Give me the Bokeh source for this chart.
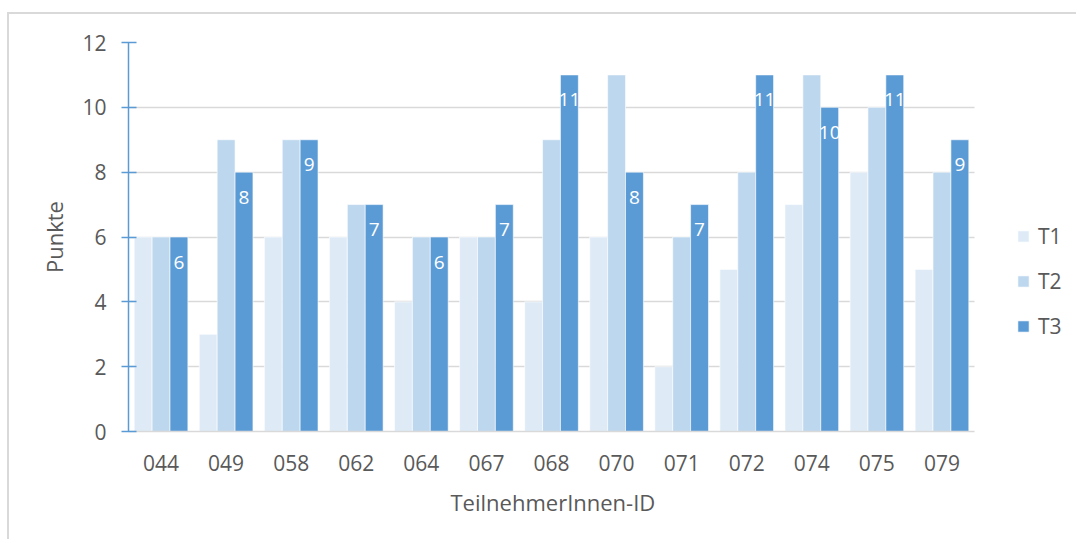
from bokeh.plotting import figure
from bokeh.models import (ColumnDataSource, Range1d, LabelSet, Title,
                          Legend, LegendItem, FixedTicker)
from bokeh.core.properties import value
from bokeh.transform import dodge
from bokeh.embed import file_html
from bokeh.resources import INLINE

# Participant IDs and points per test round
ids = ["044", "049", "058", "062", "064", "067", "068", "070", "071", "072", "074", "075", "079"]
t1 = [6, 3, 6, 6, 4, 6, 4, 6, 2, 5, 7, 8, 5]
t2 = [6, 9, 9, 7, 6, 6, 9, 11, 6, 8, 11, 10, 8]
t3 = [6, 8, 9, 7, 6, 7, 11, 8, 7, 11, 10, 11, 9]
y_ticks = [0, 2, 4, 6, 8, 10, 12]

C1, C2, C3 = "#DEEBF7", "#BDD7EE", "#5B9BD5"
TXT = "#595959"
GRID = "#D9D9D9"
FONT = "Open Sans"

n = len(ids)
xpos = [i + 0.5 for i in range(n)]

src = ColumnDataSource(dict(x=xpos, t1=t1, t2=t2, t3=t3,
                            lbl=[str(v) for v in t3]))

# layout: the bar area is 846 px wide for the 13 groups; the frame continues
# to the right edge so the legend can sit beside the bars
W, H = 1069, 527
LEFT, TOP, BOTTOM = 119, 28, 110
BAR_AREA = 846
group_px = BAR_AREA / n
x_end = (W - LEFT) / group_px

p = figure(x_range=Range1d(0, x_end), y_range=Range1d(0, 12),
           width=W, height=H, output_backend="svg", toolbar_location=None,
           min_border_left=LEFT, min_border_right=0,
           min_border_top=TOP, min_border_bottom=BOTTOM)
p.margin = (12, 0, 0, 7)
p.styles = {"border-left": "2px solid #D9D9D9", "border-top": "2px solid #D9D9D9"}
p.outline_line_color = None
p.background_fill_color = "white"
p.border_fill_color = "white"

w = 0.275
r1 = p.vbar(x=dodge("x", -w), top="t1", width=w, source=src,
            fill_color=C1, line_color="white", line_width=0.6)
r2 = p.vbar(x="x", top="t2", width=w, source=src,
            fill_color=C2, line_color="white", line_width=0.6)
r3 = p.vbar(x=dodge("x", w), top="t3", width=w, source=src,
            fill_color=C3, line_color="white", line_width=0.6)

labels = LabelSet(x=dodge("x", w), y="t3", text="lbl", source=src,
                  y_offset=-25, text_align="center", text_baseline="middle",
                  text_color="white", text_font=value(FONT), text_font_size="19px")
p.add_layout(labels)

# grid: horizontal lines only, across the bar area
p.xgrid.grid_line_color = None
p.ygrid.grid_line_color = GRID
p.ygrid.grid_line_width = 1.5
p.ygrid.ticker = FixedTicker(ticks=y_ticks)
p.ygrid.cross_bounds = (0, n)

# y axis
ya = p.yaxis[0]
ya.ticker = FixedTicker(ticks=y_ticks)
ya.axis_line_color = C3
ya.axis_line_width = 1.5
ya.major_tick_line_color = C3
ya.major_tick_line_width = 1.5
ya.major_tick_in = 8
ya.major_tick_out = 7
ya.minor_tick_line_color = None
ya.major_label_standoff = 15
ya.major_label_text_font = FONT
ya.major_label_text_font_size = "21px"
ya.major_label_text_color = TXT
ya.axis_label = "Punkte"
ya.axis_label_text_font = FONT
ya.axis_label_text_font_size = "22px"
ya.axis_label_text_font_style = "normal"
ya.axis_label_text_color = TXT
ya.axis_label_standoff = 10

# x axis with participant IDs
xa = p.xaxis[0]
xa.ticker = FixedTicker(ticks=xpos)
xa.major_label_overrides = {x: s for x, s in zip(xpos, ids)}
xa.bounds = (0, n)
xa.axis_line_color = GRID
xa.axis_line_width = 1.5
xa.major_tick_line_color = None
xa.minor_tick_line_color = None
xa.major_tick_out = 0
xa.major_tick_in = 0
xa.major_label_standoff = 23
xa.major_label_text_font = FONT
xa.major_label_text_font_size = "21px"
xa.major_label_text_color = TXT

# x axis title, centred under the bar area (not the whole frame)
x_title = Title(text="TeilnehmerInnen-ID", align="left", offset=322,
                text_font=FONT, text_font_size="22px", text_font_style="normal",
                text_color=TXT, standoff=22)
p.add_layout(x_title, "below")

legend = Legend(items=[LegendItem(label="T1", renderers=[r1]),
                       LegendItem(label="T2", renderers=[r2]),
                       LegendItem(label="T3", renderers=[r3])],
                location=(888, 90), orientation="vertical",
                glyph_width=14, glyph_height=14, label_height=30,
                label_standoff=8, spacing=15, padding=0, margin=0,
                border_line_color=None, background_fill_alpha=0,
                label_text_font=FONT, label_text_font_size="21px",
                label_text_color=TXT)
p.add_layout(legend)

open("out.html", "w").write(file_html(p, INLINE))
